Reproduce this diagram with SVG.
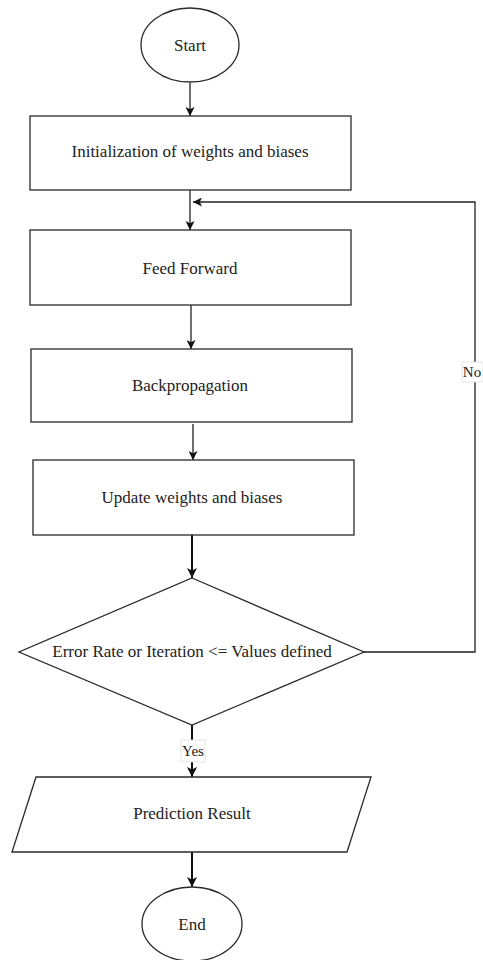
<svg xmlns="http://www.w3.org/2000/svg" width="483" height="960" viewBox="0 0 483 960">
<style>
.s{fill:#fff;stroke:#2a2a2a;stroke-width:1.3}
.t{font-family:"Liberation Serif","Times New Roman",serif;font-size:17px;fill:#222;text-anchor:middle;dominant-baseline:central}
.c{fill:none;stroke:#222;stroke-width:1.3}
.c2{fill:none;stroke:#111;stroke-width:2}
.lb{fill:#fff;stroke:#ddd;stroke-width:0.8}
</style>
<defs>
<marker id="a" viewBox="0 0 10 10" refX="10" refY="5" markerWidth="9" markerHeight="9" markerUnits="userSpaceOnUse" orient="auto">
<path d="M0,0 L10,5 L0,10 L2.5,5 Z" fill="#111"/>
</marker>
<marker id="b" viewBox="0 0 10 10" refX="10" refY="5" markerWidth="10" markerHeight="10" markerUnits="userSpaceOnUse" orient="auto">
<path d="M0,0 L10,5 L0,10 L2.5,5 Z" fill="#111"/>
</marker>
</defs>
<rect width="483" height="960" fill="#fff"/>
<g id="connectors">
<line class="c" x1="190" y1="83" x2="190" y2="116" marker-end="url(#a)"/>
<line class="c" x1="190" y1="190" x2="190" y2="230" marker-end="url(#a)"/>
<line class="c" x1="191" y1="305" x2="191" y2="349" marker-end="url(#a)"/>
<line class="c" x1="193" y1="424" x2="193" y2="460" marker-end="url(#a)"/>
<line class="c2" x1="192" y1="535" x2="192" y2="578" marker-end="url(#b)"/>
<polyline class="c" points="364,652 475,652 475,202 193,202" marker-end="url(#a)"/>
<line class="c2" x1="192" y1="725" x2="192" y2="777" marker-end="url(#b)"/>
<line class="c2" x1="192" y1="852" x2="192" y2="887" marker-end="url(#b)"/>
<g id="label-no"><rect class="lb" x="462" y="362" width="21" height="20"/><text class="t" x="472" y="372" style="font-size:15px">No</text></g>
<g id="label-yes"><rect class="lb" x="181" y="740" width="24" height="22"/><text class="t" x="193" y="751" style="font-size:15px">Yes</text></g>
</g>
<g id="start"><ellipse class="s" cx="190" cy="45" rx="49" ry="37"/><text class="t" x="190" y="45">Start</text></g>
<g id="init"><rect class="s" x="30" y="116" width="321" height="74"/><text class="t" x="190" y="151">Initialization of weights and biases</text></g>
<g id="feed"><rect class="s" x="30" y="230" width="321" height="75"/><text class="t" x="190" y="268">Feed Forward</text></g>
<g id="backprop"><rect class="s" x="31" y="349" width="321" height="73"/><text class="t" x="190" y="385">Backpropagation</text></g>
<g id="update"><rect class="s" x="33" y="460" width="321" height="75"/><text class="t" x="192" y="497">Update weights and biases</text></g>
<g id="decision"><polygon class="s" points="192,578 364,652 192,725 19,652"/><text class="t" x="192" y="651">Error Rate or Iteration &lt;= Values defined</text></g>
<g id="prediction"><polygon class="s" points="36,777 371,777 347,852 12,852"/><text class="t" x="192" y="813">Prediction Result</text></g>
<g id="end"><ellipse class="s" cx="192" cy="924" rx="50" ry="37"/><text class="t" x="192" y="924">End</text></g>
</svg>
